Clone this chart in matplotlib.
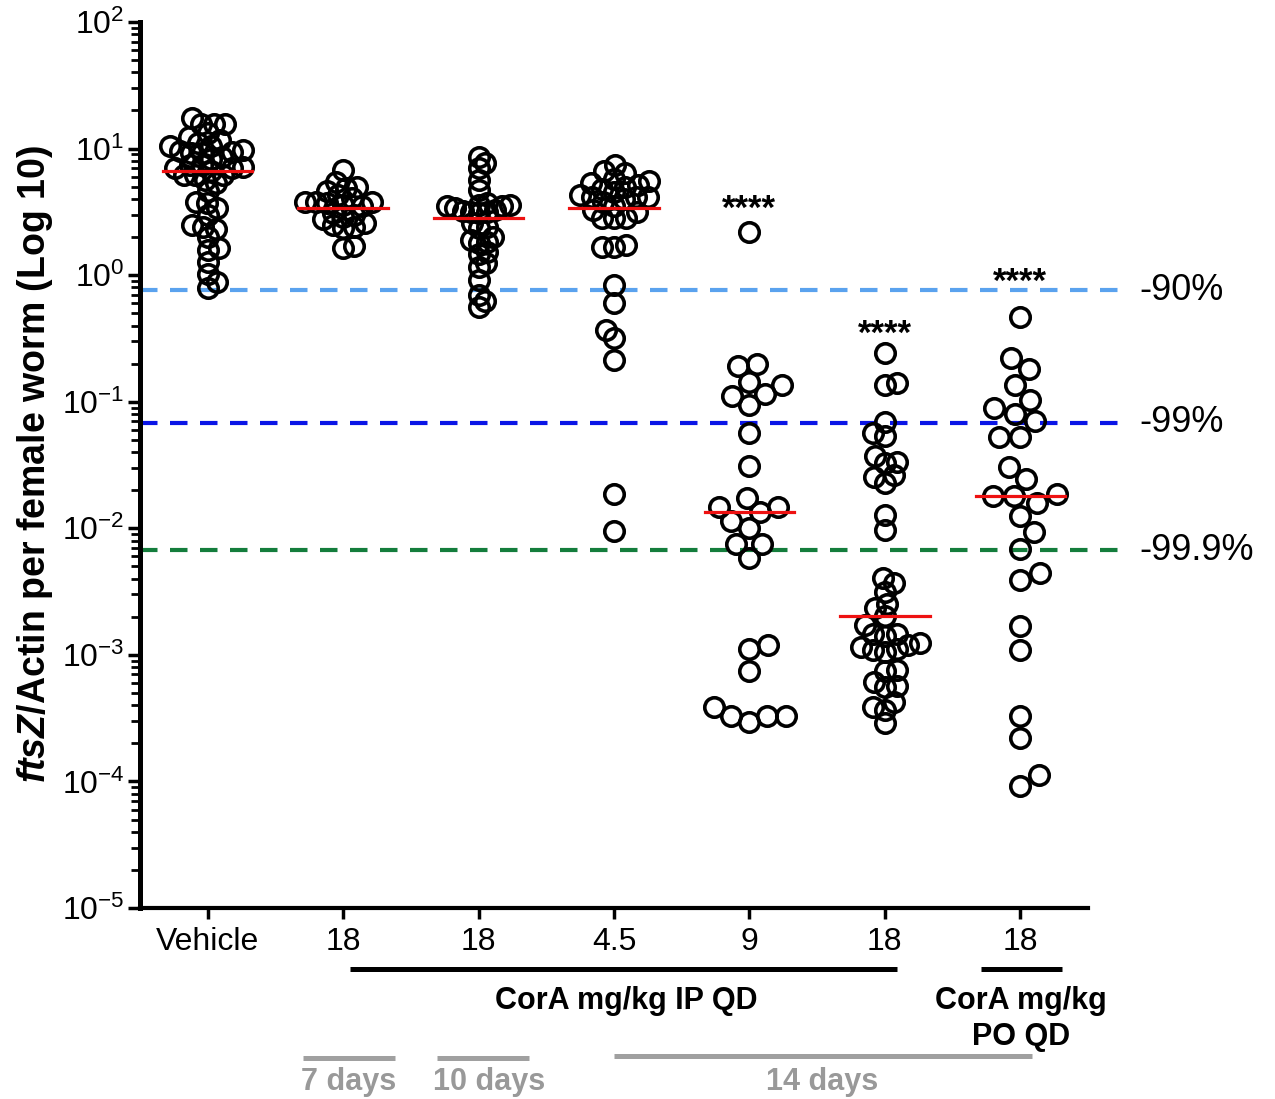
import numpy as np
import matplotlib.pyplot as plt

plt.rcParams['font.family'] = 'Liberation Sans'
plt.rcParams['mathtext.fontset'] = 'custom'
plt.rcParams['mathtext.rm'] = 'Liberation Sans'
plt.rcParams['mathtext.it'] = 'Liberation Sans:italic:bold'
plt.rcParams['mathtext.bf'] = 'Liberation Sans:bold'

# tick labels of the groups
group_labels = ['Vehicle', '18', '18', '4.5', '9', '18', '18']

# ftsZ/Actin values
vehicle = [17.3, 15.6, 15.6, 15.6, 13.2, 12.3, 11.7, 11.1, 10.4, 10.4, 9.7, 9.6,
           9.4, 9.2, 9.2, 8.6, 8.2, 7.4, 7.4, 7.2, 7.0, 7.0, 6.6, 6.2, 6.2, 6.2,
           5.6, 5.3, 4.6, 3.8, 3.7, 3.4, 3.0, 2.5, 2.4, 2.3, 2.0, 1.63, 1.58,
           1.28, 1.03, 0.89, 0.79]
ip18_7d = [6.8, 5.4, 5.0, 4.9, 4.6, 4.3, 4.05, 3.8, 3.8, 3.8, 3.7, 3.6, 3.5,
           3.1, 3.0, 2.9, 2.8, 2.6, 2.5, 2.4, 2.35, 1.7, 1.63]
ip18_10d = [8.6, 7.65, 7.0, 5.6, 4.7, 3.7, 3.6, 3.6, 3.5, 3.5, 3.4, 3.27, 3.2,
            3.17, 3.17, 3.1, 2.57, 2.41, 2.35, 2.0, 1.9, 1.83, 1.78, 1.53, 1.48,
            1.24, 1.16, 0.915, 0.70, 0.62, 0.56]
ip4_5 = [7.4, 6.6, 6.4, 5.8, 5.5, 5.3, 5.15, 4.97, 4.8, 4.56, 4.3, 4.15, 4.15,
         4.15, 4.0, 3.8, 3.5, 3.27, 3.17, 2.81, 2.81, 2.81, 1.73, 1.68, 1.68,
         0.835, 0.60, 0.37, 0.317, 0.214, 0.0187, 0.0095]
ip9 = [2.2, 0.198, 0.192, 0.144, 0.135, 0.115, 0.111, 0.094, 0.057, 0.031,
       0.0174, 0.0148, 0.0148, 0.0134, 0.0114, 0.0100, 0.0075, 0.0075, 0.0058,
       0.0012, 0.00112, 0.00074, 0.00039, 0.00033, 0.00033, 0.00033, 0.000295]
ip18_14d = [0.241, 0.141, 0.136, 0.0695, 0.0569, 0.0536, 0.0372, 0.0336, 0.0326,
            0.0264, 0.0256, 0.0227, 0.0127, 0.0097, 0.00402, 0.00367, 0.00315,
            0.00252, 0.00233, 0.00203, 0.00172, 0.00146, 0.00146, 0.00141,
            0.00123, 0.0012, 0.00116, 0.00111, 0.00109, 0.00106, 0.00076,
            0.00074, 0.000614, 0.000567, 0.000553, 0.000427, 0.000389,
            0.000367, 0.000288]
po18 = [0.47, 0.22, 0.18, 0.135, 0.104, 0.089, 0.080, 0.070, 0.053, 0.053,
        0.0305, 0.0245, 0.0185, 0.018, 0.018, 0.0158, 0.0125, 0.0093, 0.0069,
        0.0044, 0.0039, 0.00169, 0.00109, 0.00033, 0.00022, 0.000112, 0.000092]
series = [vehicle, ip18_7d, ip18_10d, ip4_5, ip9, ip18_14d, po18]
medians = [6.65, 3.39, 2.84, 3.39, 0.0134, 0.00203, 0.018]

# reduction lines
ref_values = [0.76, 0.068, 0.0067]
ref_labels = ['-90%', '-99%', '-99.9%']
ref_colors = ['#5aa2ee', '#0a14e6', '#147d3c']

stars = ['', '', '', '', '****', '****', '****']
star_y = [None, None, None, None, 3.3, 0.34, 0.88]

W, H = 1275, 1099
fig = plt.figure(figsize=(W / 100, H / 100), dpi=100)
ax = fig.add_axes([140 / W, 1 - 908 / H, (1088 - 140) / W, (908 - 22) / H])
ax.set_yscale('log')
ax.set_ylim(1e-5, 1e2)
ax.set_xlim(-0.5, 6.5)


def swarm(ypix, d, limit=240):
    steps = np.arange(1, limit) * 0.5
    xs = np.zeros(len(ypix))
    placed = []
    for k, i in enumerate(np.argsort(ypix)):
        sign = 1 if k % 2 else -1
        cand = np.concatenate([[0], np.column_stack([sign * steps, -sign * steps]).ravel()])
        if placed:
            px = xs[placed]
            py = ypix[placed]
            dist2 = (cand[:, None] - px[None, :]) ** 2 + (ypix[i] - py[None, :]) ** 2
            ok = np.all(dist2 >= d * d, axis=1)
            xs[i] = cand[np.argmax(ok)]
        placed.append(i)
    return xs


pxu = ax.transData.transform((1, 1))[0] - ax.transData.transform((0, 1))[0]
for i, vals in enumerate(series):
    vals = np.array(vals)
    ypix = ax.transData.transform(np.column_stack([np.zeros(len(vals)), vals]))[:, 1]
    d = 24.0
    while True:
        xs = swarm(ypix, d)
        if np.abs(xs).max() <= 38 or d <= 8:
            break
        d -= 1
    ax.plot(i + xs / pxu, vals, 'o', mfc='none', mec='black', ms=14, mew=2.6,
            clip_on=False, zorder=3)
    ax.plot([i - 0.33, i + 0.33], [medians[i], medians[i]], color='#ee1111', lw=2.3, zorder=4)
    if stars[i]:
        ax.text(i, star_y[i], stars[i], ha='center', va='center', fontsize=25,
                fontweight='bold')

for v, lab, c in zip(ref_values, ref_labels, ref_colors):
    ax.plot([-0.5, 6.8], [v, v], color=c, lw=3, dashes=(4.2, 3), clip_on=False, zorder=2)
    ax.text(6.88, v, lab, ha='left', va='center', fontsize=26)

ax.spines['top'].set_visible(False)
ax.spines['right'].set_visible(False)
ax.spines['left'].set_linewidth(3.6)
ax.spines['bottom'].set_linewidth(3.0)

decades = range(-5, 3)
ax.set_yticks([10.0 ** e for e in decades])
ax.set_yticklabels([f'$\\mathregular{{10^{{{e}}}}}$' for e in decades], fontsize=23)
ax.set_yticks([m * 10.0 ** e for e in range(-5, 2) for m in range(2, 10)], minor=True)
ax.set_yticklabels([], minor=True)
ax.tick_params(axis='y', which='major', direction='out', length=9, width=2.5, pad=2)
ax.tick_params(axis='y', which='minor', direction='out', length=6.5, width=2)
ax.set_xticks(range(7))
ax.set_xticklabels(group_labels, fontsize=23)
ax.tick_params(axis='x', direction='out', length=8, width=2.5, pad=6)

fig.text(35 / W, 1 - 464 / H, '$\\mathit{ftsZ}$/Actin per female worm (Log 10)',
         rotation=90, ha='center', va='center', fontsize=27, fontweight='bold')


def hline(x0, x1, y, color):
    fig.add_artist(plt.Line2D([x0 / W, x1 / W], [1 - y / H, 1 - y / H], color=color,
                              lw=3.6, solid_capstyle='butt'))


hline(350, 897, 969, 'black')
hline(981, 1062, 969, 'black')
fig.text(626 / W, 1 - 1001 / H, 'CorA mg/kg IP QD', ha='center', va='center',
         fontsize=22, fontweight='bold')
fig.text(1021 / W, 1 - 1019 / H, 'CorA mg/kg\nPO QD', ha='center', va='center',
         fontsize=22, fontweight='bold', linespacing=1.25)

gray = '#a0a0a0'
hline(303, 395, 1058, gray)
hline(437, 529, 1058, gray)
hline(614, 1032, 1056, gray)
fig.text(349 / W, 1 - 1082 / H, '7 days', ha='center', va='center', fontsize=22,
         fontweight='bold', color='#999999')
fig.text(489 / W, 1 - 1082 / H, '10 days', ha='center', va='center', fontsize=22,
         fontweight='bold', color='#999999')
fig.text(822 / W, 1 - 1082 / H, '14 days', ha='center', va='center', fontsize=22,
         fontweight='bold', color='#999999')

fig.savefig('out.png', dpi=100)
